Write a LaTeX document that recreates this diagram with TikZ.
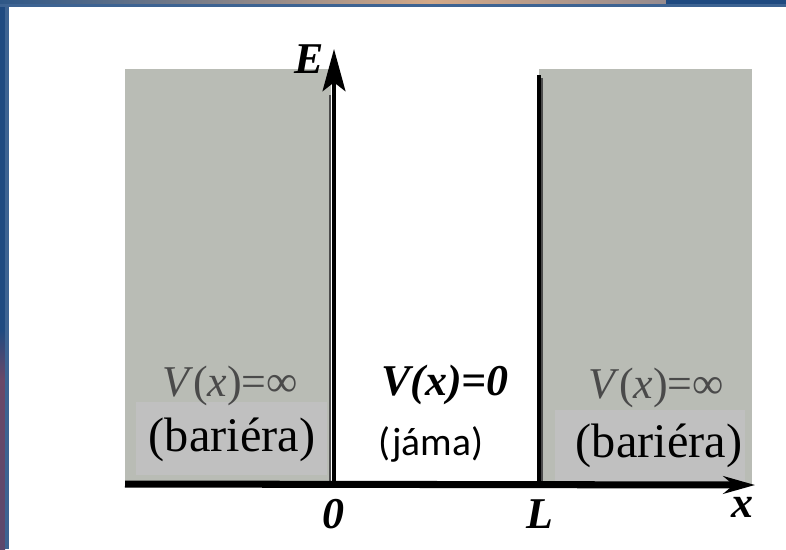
\documentclass[tikz,border=0pt]{standalone}
\usepackage{fontspec}
\setmainfont{Liberation Serif}
\newfontfamily\jamafont{Carlito}
\usetikzlibrary{arrows.meta,calc}
\definecolor{framedark}{HTML}{1F4A80}
\definecolor{framelight}{HTML}{3D6392}
\definecolor{framepurple}{HTML}{6A4868}
\definecolor{bandblue}{HTML}{2E5787}
\definecolor{bandtan}{HTML}{D3A988}
\definecolor{bandgray}{HTML}{968B8E}
\definecolor{barrierfill}{HTML}{B9BCB5}
\definecolor{labelfill}{HTML}{C0C0C0}
\definecolor{potgray}{HTML}{4A4A4A}

\begin{document}
\begin{tikzpicture}[
  x=0.02cm, y=-0.02cm,
  >=Stealth,
  every node/.style={inner sep=0pt, outer sep=0pt, anchor=base},
  axis/.style={draw=black, line width=2.2pt},
  wallline/.style={draw=black, line width=2pt},
  axlabel/.style={font=\fontsize{25}{25}\selectfont\bfseries\itshape},
  potlabel/.style={font=\fontsize{25}{25}\selectfont},
  barlabel/.style={font=\fontsize{27.5}{27.5}\selectfont}
]
  \useasboundingbox (0,0) rectangle (786,549);
  \fill[white] (0,0) rectangle (786,549);

  % slide frame
  \fill[framedark] (0,0) rectangle (5,370);
  \shade[top color=framedark, bottom color=framepurple] (0,330) rectangle (5,380);
  \shade[top color=framepurple, bottom color=framepurple!80!framedark] (0,380) rectangle (5,549);
  \fill[framelight] (5,7) rectangle (9,549);
  \shade[left color=bandblue, right color=bandtan] (0,0) rectangle (430,4);
  \shade[left color=bandtan, right color=bandgray] (430,0) rectangle (666,4);
  \fill[framedark] (666,0) rectangle (786,4);
  \fill[framelight] (0,4) rectangle (786,7);

  \coordinate (O) at (334,484);
  \coordinate (Etop) at (334,49);
  \coordinate (Lb) at (539,484);
  \coordinate (Lt) at (539,75);
  \coordinate (Xl) at (125,484);
  \coordinate (Xr) at (755,485);

  % barriers
  \fill[barrierfill] (125,69) rectangle (331,484);
  \fill[barrierfill] (539,69) rectangle (752,484);
  \fill[labelfill] (136,402) rectangle (327,475);
  \fill[labelfill] (555,410) rectangle (745,484);
  \draw[gray!60!black, line width=1.5pt] (330,484) -- (330,95);
  \draw[gray!60!black, line width=1.5pt] (542,484) -- (542,78);

  % axes and wall
  \draw[line width=4pt, -{Stealth[length=18pt, width=10pt]}] (Xl) -- (Xr);
  \draw[axis, -{Stealth[length=24pt, width=13pt, inset=5pt]}] (O) -- (Etop);
  \draw[wallline] (Lb) -- (Lt);

  \node[axlabel] (Elabel) at (309,73) {E};
  \node[axlabel] (zerolabel) at (333,528) {0};
  \node[axlabel] (Llabel) at (540,528) {L};
  \node[axlabel] (xlabel) at (742,517) {x};

  \node[potlabel, text=potgray] (leftpot) at (230,396) {\textit{V}(\textit{x})=∞};
  \node[potlabel, font=\fontsize{25}{25}\selectfont\bfseries\itshape] (wellpot) at (445,395) {V(x)=0};
  \node[potlabel, text=potgray] (rightpot) at (656,398) {\textit{V}(\textit{x})=∞};

  \node[barlabel] (leftbar) at (232,451) {(bariéra)};
  \node[font=\fontsize{22.5}{22.5}\jamafont] (wellname) at (431,455) {(jáma)};
  \node[barlabel] (rightbar) at (659,457) {(bariéra)};
\end{tikzpicture}
\end{document}
